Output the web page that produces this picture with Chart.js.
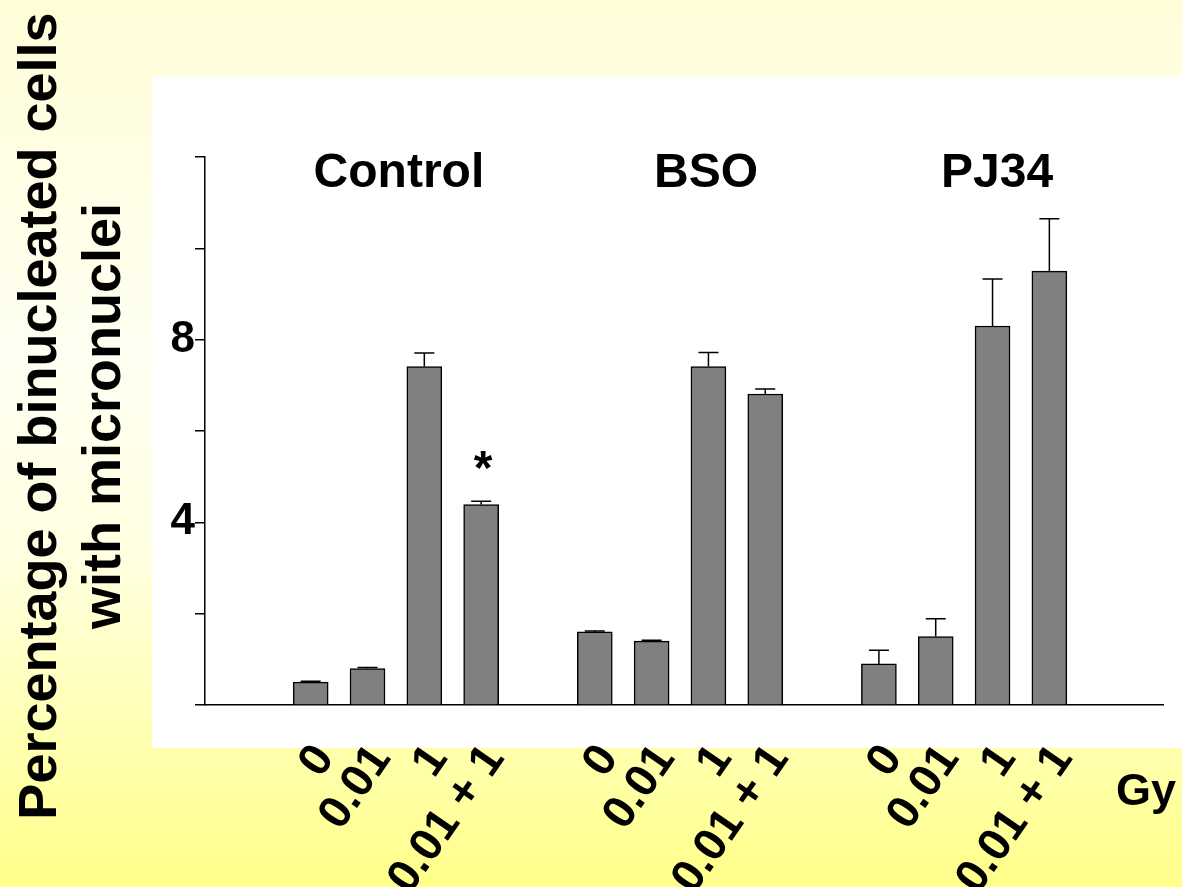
<!DOCTYPE html>
<html>
<head>
<meta charset="utf-8">
<title>Micronuclei</title>
<script src="https://cdn.jsdelivr.net/npm/chart.js@4.4.1/dist/chart.umd.min.js"></script>
<style>
  html, body { margin: 0; padding: 0; }
  body {
    width: 1182px;
    height: 887px;
    overflow: hidden;
    background: linear-gradient(to bottom, #FFFDD8 0%, #FFFFF2 40%, #FFFFE2 62%, #FFFF8A 100%);
  }
  #wrap { position: relative; width: 1182px; height: 887px; }
</style>
</head>
<body>
<div id="wrap"><canvas id="chart"></canvas></div>
<script>
// groups and doses
const groups = ["Control", "BSO", "PJ34"];
const doses = ["0", "0.01", "1", "0.01 + 1"];
const tickLabels = groups.flatMap(() => doses);

// bar slots on the x axis (gap of one slot between groups)
const barX = [2, 3, 4, 5, 7, 8, 9, 10, 12, 13, 14, 15];

// % binucleated cells with micronuclei
const means  = [0.50, 0.80, 7.41, 4.39, 1.60, 1.40, 7.41, 6.81, 0.90, 1.50, 8.30, 9.50];
const errors = [0.02, 0.02, 0.30, 0.07, 0.02, 0.02, 0.31, 0.11, 0.30, 0.39, 1.03, 1.15];

const yTicks = [0, 2, 4, 6, 8, 10, 12];
const yLabelled = [4, 8];

const yTitle = ["Percentage of binucleated cells", "with micronuclei"];
const unitLabel = "Gy";
const starBar = 3; // Control, 0.01 + 1

const FONT = '"Liberation Sans", Arial, Helvetica, sans-serif';

// white panel, error bars and the extra text
const decor = {
    id: "decor",
    beforeDraw(chart) {
        const { ctx, chartArea: a } = chart;
        ctx.save();
        ctx.fillStyle = "#ffffff";
        ctx.fillRect(a.left - 53, a.top - 81, chart.width - (a.left - 53), a.bottom - a.top + 124);
        ctx.restore();
    },
    afterDatasetsDraw(chart) {
        const { ctx, chartArea: a, scales: { x, y } } = chart;
        ctx.save();
        ctx.strokeStyle = "#000";
        ctx.lineWidth = 1.5;
        barX.forEach((v, i) => {
            const px = x.getPixelForValue(v);
            const y0 = y.getPixelForValue(means[i]);
            const y1 = y.getPixelForValue(means[i] + errors[i]);
            ctx.beginPath();
            ctx.moveTo(px, y0);
            ctx.lineTo(px, y1);
            ctx.moveTo(px - 10, y1);
            ctx.lineTo(px + 10, y1);
            ctx.stroke();
        });

        ctx.fillStyle = "#000";
        ctx.textBaseline = "alphabetic";

        // group titles above each group
        ctx.font = "bold 48px " + FONT;
        ctx.textAlign = "center";
        groups.forEach((g, i) => {
            const first = x.getPixelForValue(barX[i * 4]);
            const last = x.getPixelForValue(barX[i * 4 + 3]);
            const shift = [3, 26, 33][i];
            ctx.fillText(g, (first + last) / 2 + shift, a.top + 30);
        });

        // significance star
        const sx = x.getPixelForValue(barX[starBar]) + 2;
        const sy = y.getPixelForValue(means[starBar] + errors[starBar]) - 17;
        ctx.fillText("*", sx, sy);

        // unit
        ctx.font = "bold 45px " + FONT;
        ctx.textAlign = "left";
        ctx.fillText(unitLabel, a.right - 47, a.bottom + 100);

        // y axis title, two lines
        ctx.font = "bold 54px " + FONT;
        ctx.textAlign = "center";
        ctx.translate(56, (a.top + a.bottom) / 2 - 15);
        ctx.rotate(-Math.PI / 2);
        yTitle.forEach((line, i) => ctx.fillText(line, 0, i * 64));
        ctx.restore();
    }
};

new Chart(document.getElementById("chart"), {
    type: "bar",
    data: {
        datasets: [{
            data: barX.map((v, i) => ({ x: v, y: means[i] })),
            backgroundColor: "#808080",
            borderColor: "#000",
            borderWidth: 1.5,
            barThickness: 35
        }]
    },
    options: {
        responsive: true,
        maintainAspectRatio: false,
        animation: false,
        layout: { padding: { top: 157, right: 19, left: 0, bottom: 0 } },
        plugins: {
            legend: { display: false },
            tooltip: { enabled: false }
        },
        scales: {
            x: {
                type: "linear",
                offset: false,
                min: 0.14,
                max: 17,
                afterBuildTicks: s => { s.ticks = barX.map(v => ({ value: v })); },
                afterFit: s => { s.height = 182; },
                ticks: {
                    autoSkip: false,
                    minRotation: 55,
                    maxRotation: 55,
                    padding: 30,
                    labelOffset: 14,
                    color: "#000",
                    font: { family: FONT, size: 46, weight: "bold" },
                    callback: (v, i) => tickLabels[i]
                },
                grid: { drawOnChartArea: false, drawTicks: false },
                border: { display: true, color: "#000", width: 1.5 }
            },
            y: {
                min: 0,
                max: 12,
                afterBuildTicks: s => { s.ticks = yTicks.map(v => ({ value: v })); },
                afterFit: s => { s.width = 205; },
                ticks: {
                    padding: 0,
                    color: "#000",
                    font: { family: FONT, size: 44, weight: "bold" },
                    callback: v => yLabelled.includes(v) ? String(v) : ""
                },
                grid: { drawOnChartArea: false, drawTicks: true, tickLength: 10, color: "#000", lineWidth: 1.5 },
                border: { display: true, color: "#000", width: 1.5 }
            }
        }
    },
    plugins: [decor]
});
</script>
</body>
</html>
